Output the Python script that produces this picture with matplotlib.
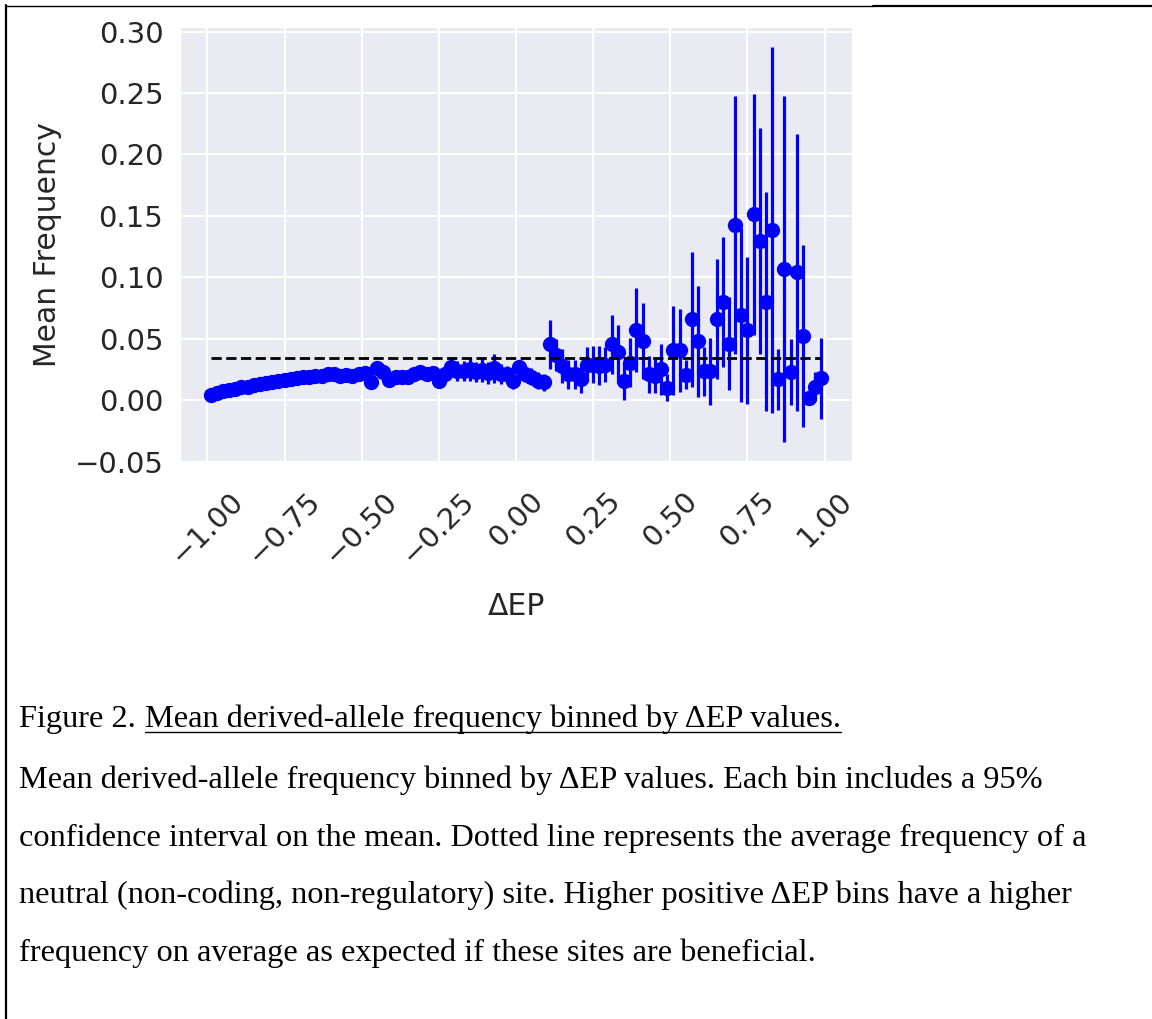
import numpy as np
import matplotlib
matplotlib.use("Agg")
import matplotlib.pyplot as plt
import seaborn as sns
from matplotlib.lines import Line2D

# bin centres of delta EP (width 0.02) and mean derived-allele frequency per bin
bin_centers = np.round(np.arange(-0.99, 1.0, 0.02), 2)

mean_freq = [
    0.004, 0.006, 0.0075, 0.0085, 0.0095, 0.0105, 0.011, 0.012, 0.013, 0.014,
    0.0145, 0.0155, 0.0165, 0.017, 0.018, 0.0185, 0.019, 0.0195, 0.020, 0.0215,
    0.021, 0.0195, 0.0205, 0.0195, 0.021, 0.022, 0.015, 0.026, 0.023, 0.0165,
    0.0185, 0.019, 0.0185, 0.021, 0.023, 0.021, 0.0225, 0.016, 0.021, 0.027,
    0.024, 0.0235, 0.025, 0.023, 0.0245, 0.022, 0.026, 0.0215, 0.021, 0.0155,
    0.027, 0.0215, 0.019, 0.016, 0.0145, 0.0455, 0.037, 0.028, 0.021, 0.021,
    0.017, 0.029, 0.029, 0.028, 0.029, 0.0455, 0.039, 0.0155, 0.0305, 0.057,
    0.048, 0.021, 0.0196, 0.025, 0.010, 0.0405, 0.0405, 0.0208, 0.066, 0.048,
    0.0235, 0.0235, 0.066, 0.0797, 0.046, 0.1427, 0.0695, 0.0568, 0.1514, 0.1297,
    0.0803, 0.1386, 0.017, 0.1068, 0.023, 0.104, 0.0519, 0.0014, 0.011, 0.018,
]

# half width of the 95% confidence interval
ci_95 = [
    0.001, 0.001, 0.001, 0.001, 0.0015, 0.0015, 0.0015, 0.0015, 0.0015, 0.0015,
    0.002, 0.002, 0.002, 0.002, 0.002, 0.002, 0.002, 0.0025, 0.0025, 0.0025,
    0.0025, 0.0025, 0.003, 0.003, 0.003, 0.003, 0.004, 0.004, 0.004, 0.004,
    0.004, 0.0045, 0.0045, 0.005, 0.005, 0.005, 0.0055, 0.006, 0.006, 0.008,
    0.008, 0.008, 0.009, 0.008, 0.010, 0.009, 0.012, 0.008, 0.007, 0.006,
    0.006, 0.007, 0.007, 0.007, 0.007, 0.020, 0.013, 0.014, 0.012, 0.012,
    0.011, 0.014, 0.015, 0.016, 0.014, 0.024, 0.022, 0.015, 0.020, 0.034,
    0.031, 0.015, 0.014, 0.021, 0.011, 0.036, 0.034, 0.012, 0.055, 0.045,
    0.020, 0.027, 0.049, 0.053, 0.038, 0.105, 0.071, 0.060, 0.098, 0.092,
    0.089, 0.149, 0.025, 0.141, 0.027, 0.113, 0.074, 0.004, 0.012, 0.033,
]

neutral_freq = 0.034

y_ticks = [-0.05, 0.00, 0.05, 0.10, 0.15, 0.20, 0.25, 0.30]
x_ticks = [-1.00, -0.75, -0.50, -0.25, 0.00, 0.25, 0.50, 0.75, 1.00]

caption_title = "Figure 2."
caption_link = "Mean derived-allele frequency binned by \u0394EP values."
caption_lines = [
    "Mean derived-allele frequency binned by \u0394EP values. Each bin includes a 95%",
    "confidence interval on the mean. Dotted line represents the average frequency of a",
    "neutral (non-coding, non-regulatory) site. Higher positive \u0394EP bins have a higher",
    "frequency on average as expected if these sites are beneficial.",
]
caption_baselines = [788, 846, 903, 961]

sns.set_style("darkgrid")
plt.rcParams["font.family"] = ["DejaVu Sans"]

W, H = 1152, 1019
fig = plt.figure(figsize=(W / 100, H / 100), dpi=100)
ax = fig.add_axes([180 / W, 1 - 462 / H, 672 / W, 435 / H])

ax.errorbar(bin_centers, mean_freq, yerr=ci_95, fmt="o", color="blue",
            ms=10, elinewidth=2.3, capsize=0, zorder=2)
ax.plot([bin_centers[0], bin_centers[-1]], [neutral_freq, neutral_freq],
        "k--", lw=2.0, zorder=3)

ax.set_xticks(x_ticks)
ax.set_yticks(y_ticks)
ax.set_yticklabels([f"{v:.2f}".replace("-", "\u2212") for v in y_ticks])
ax.set_xticklabels([f"{v:.2f}".replace("-", "\u2212") for v in x_ticks], rotation=45)
ax.tick_params(axis="y", labelsize=21, pad=12, length=0, colors="#262626")
ax.tick_params(axis="x", labelsize=21, pad=18, length=0, colors="#262626")
ax.grid(True, color="white", lw=1.5)

ax.set_ylabel("Mean Frequency", fontsize=21.5, color="#262626")
ax.yaxis.set_label_coords(-0.175, 0.5)
ax.set_xlabel("\u0394EP", fontsize=21.5, color="#262626")
ax.xaxis.set_label_coords(0.5, -0.298)

# caption block under the plot
cap_font = dict(family="Liberation Serif", size=23.3, color="black", va="baseline")
renderer = fig.canvas.get_renderer()
x0 = 19
t1 = fig.text(x0 / W, 1 - 727 / H, caption_title, **cap_font)
bb1 = t1.get_window_extent(renderer)
t2 = fig.text((bb1.x1 + 9) / W, 1 - 727 / H, caption_link, **cap_font)
bb2 = t2.get_window_extent(renderer)
y_ul = 1 - 732 / H
fig.add_artist(Line2D([bb2.x0 / W, bb2.x1 / W], [y_ul, y_ul], color="black", lw=1.0))

for line, base in zip(caption_lines, caption_baselines):
    fig.text(x0 / W, 1 - base / H, line, **cap_font)

# page frame lines
fig.add_artist(Line2D([5.5 / W, 5.5 / W], [0, 1 - 5 / H], color="black", lw=1.6))
fig.add_artist(Line2D([5 / W, 873 / W], [1 - 5.5 / H, 1 - 5.5 / H], color="black", lw=1.0))
fig.add_artist(Line2D([873 / W, 1.0], [1 - 6 / H, 1 - 6 / H], color="black", lw=1.6))

fig.savefig("out.png", dpi=100)
